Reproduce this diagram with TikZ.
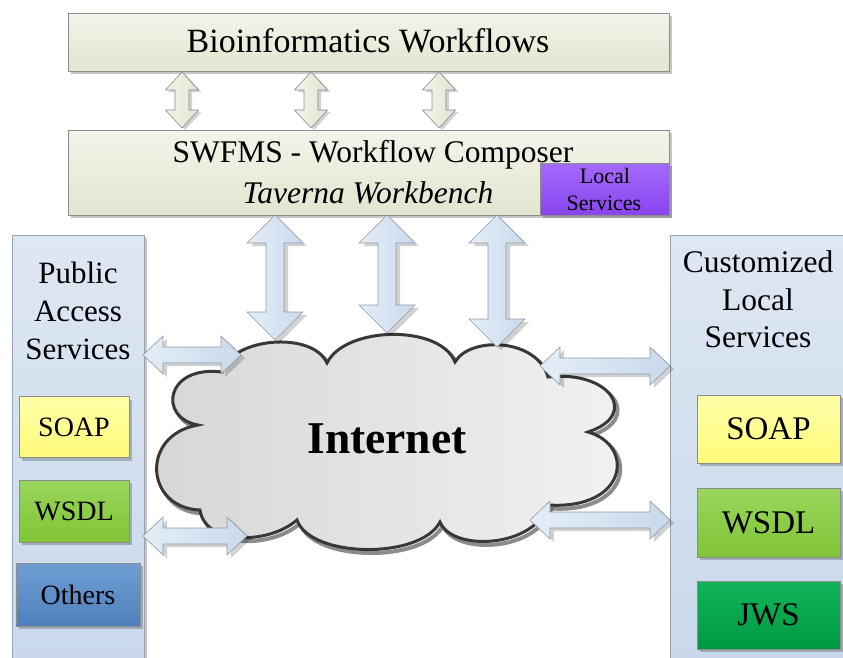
\documentclass[tikz,border=0pt]{standalone}
\usepackage{fontspec}
\setmainfont{Liberation Serif}
\usetikzlibrary{shadows}
\definecolor{beigeT}{HTML}{F3F4EA}
\definecolor{beigeB}{HTML}{E2E5D0}
\definecolor{boxline}{HTML}{8C8C8C}
\definecolor{purpT}{HTML}{A46AFB}
\definecolor{purpB}{HTML}{8944EF}
\definecolor{panelT}{HTML}{DEE7F3}
\definecolor{panelB}{HTML}{C8D8EB}
\definecolor{panelLine}{HTML}{98A3AF}
\definecolor{yelT}{HTML}{FFFFAA}
\definecolor{yelB}{HTML}{FFFA78}
\definecolor{grnT}{HTML}{9AD65C}
\definecolor{grnB}{HTML}{80C436}
\definecolor{bluT}{HTML}{6E9ED3}
\definecolor{bluB}{HTML}{4E80BC}
\definecolor{dgrT}{HTML}{10B45A}
\definecolor{dgrB}{HTML}{009A40}
\definecolor{arrL}{HTML}{E4EDF7}
\definecolor{arrR}{HTML}{C9DAEC}
\definecolor{arrLine}{HTML}{8E9AA6}
\definecolor{cloudL}{HTML}{D6D6D6}
\definecolor{cloudR}{HTML}{F2F2F2}
\definecolor{cloudLine}{HTML}{383838}
\newcommand{\fs}[1]{\fontsize{#1pt}{#1pt}\selectfont}
\newcommand{\VArrow}[7]{%
  \draw[#1] (#2,#3) -- (#2+#5,#3+#7) -- (#2+#6,#3+#7) -- (#2+#6,#4-#7) -- (#2+#5,#4-#7) -- (#2,#4)
    -- (#2-#5,#4-#7) -- (#2-#6,#4-#7) -- (#2-#6,#3+#7) -- (#2-#5,#3+#7) -- cycle;}
\newcommand{\HArrow}[7]{%
  \draw[#1] (#3,#2) -- (#3+#7,#2-#5) -- (#3+#7,#2-#6) -- (#4-#7,#2-#6) -- (#4-#7,#2-#5) -- (#4,#2)
    -- (#4-#7,#2+#5) -- (#4-#7,#2+#6) -- (#3+#7,#2+#6) -- (#3+#7,#2+#5) -- cycle;}
\newcommand{\cloudpath}{(222,372) .. controls (230,338) and (312,330) .. (327,363)
  .. controls (345,326) and (440,324) .. (455,362)
  .. controls (470,336) and (537,338) .. (548,377)
  .. controls (610,370) and (640,415) .. (588,432)
  .. controls (635,445) and (628,510) .. (548,505)
  .. controls (535,548) and (452,552) .. (440,522)
  .. controls (420,560) and (310,558) .. (297,520)
  .. controls (268,545) and (205,545) .. (200,510)
  .. controls (145,508) and (140,435) .. (198,425)
  .. controls (158,418) and (165,365) .. (222,372) -- cycle}
\begin{document}
\begin{tikzpicture}[x=1pt,y=-1pt,
  box/.style={draw=boxline, line width=0.8pt, inner sep=0pt,
    drop shadow={shadow xshift=3pt, shadow yshift=-3pt, opacity=0.22, fill=black}},
  beigebox/.style={box, top color=beigeT, bottom color=beigeB},
  purplebox/.style={box, top color=purpT, bottom color=purpB},
  panelbox/.style={box, draw=panelLine, top color=panelT, bottom color=panelB},
  yellowbox/.style={box, top color=yelT, bottom color=yelB},
  greenbox/.style={box, top color=grnT, bottom color=grnB},
  bluebox/.style={box, top color=bluT, bottom color=bluB},
  dgreenbox/.style={box, top color=dgrT, bottom color=dgrB},
  barrow/.style={draw=arrLine, line width=0.6pt, left color=arrL, right color=arrR, line join=miter,
    drop shadow={shadow xshift=4pt, shadow yshift=-3pt, opacity=0.18, fill=black}},
  sarrow/.style={draw=boxline, line width=0.6pt, left color=beigeT, right color=beigeB, line join=miter,
    drop shadow={shadow xshift=3pt, shadow yshift=-2pt, opacity=0.18, fill=black}},
  txt/.style={inner sep=0pt, anchor=base, text=black}
]
\useasboundingbox (0,0) rectangle (843,657);

% side panels
\node[panelbox, minimum width=132pt, minimum height=440pt] (lp) at (78,455) {};
\node[panelbox, minimum width=190pt, minimum height=440pt] (rp) at (765,455) {};
\node[txt, font=\fs{31}] (lp1) at (78,283) {Public};
\node[txt, font=\fs{31}] (lp2) at (78,321) {Access};
\node[txt, font=\fs{31}] (lp3) at (78,359) {Services};
\node[txt, font=\fs{31.5}] (rp1) at (758,272) {Customized};
\node[txt, font=\fs{31.5}] (rp2) at (758,310) {Local};
\node[txt, font=\fs{31.5}] (rp3) at (758,347) {Services};

% left service boxes
\node[yellowbox, minimum width=110pt, minimum height=61pt, font=\fs{28}] (lsoap) at (74,427) {SOAP};
\node[greenbox, minimum width=110pt, minimum height=62pt, font=\fs{28}] (lwsdl) at (74,511) {WSDL};
\node[bluebox, minimum width=124pt, minimum height=63pt, font=\fs{28}] (loth) at (78,594.5) {Others};
% right service boxes
\node[yellowbox, minimum width=143pt, minimum height=68pt, font=\fs{33}] (rsoap) at (768.5,429) {SOAP};
\node[greenbox, minimum width=143pt, minimum height=69pt, font=\fs{33}] (rwsdl) at (768.5,522.5) {WSDL};
\node[dgreenbox, minimum width=143pt, minimum height=68pt, font=\fs{33}] (rjws) at (768.5,615) {JWS};

% top boxes
\node[beigebox, minimum width=601pt, minimum height=58pt] (bio) at (368.5,42) {};
\node[txt, font=\fs{34}] (biot) at (368,52) {Bioinformatics Workflows};
\node[beigebox, minimum width=601pt, minimum height=85pt] (swf) at (368.5,172.5) {};
\node[txt, font=\fs{31.5}] (swft) at (373,162) {SWFMS - Workflow Composer};
\node[txt, font=\fs{31.5}\itshape] (tav) at (368,203) {Taverna Workbench};
\node[purplebox, minimum width=129pt, minimum height=52pt] (loc) at (604.5,189) {};
\node[txt, font=\fs{22}] (loc1) at (605,183) {Local};
\node[txt, font=\fs{22}] (loc2) at (604,210) {Services};

% small beige arrows
\VArrow{sarrow}{182}{72}{128}{16.5}{7}{18}
\VArrow{sarrow}{311}{72}{128}{16.5}{7}{18}
\VArrow{sarrow}{439}{72}{128}{16.5}{7}{18}

% cloud
\draw[line width=4pt, draw=black!45, xshift=3pt, yshift=-3.5pt] \cloudpath;
\draw[line width=3pt, draw=cloudLine, left color=cloudL, right color=cloudR] \cloudpath;
\node[txt, font=\fs{45.5}\bfseries] (inet) at (387,453) {Internet};

% big blue arrows
\VArrow{barrow}{275}{215}{340}{28}{9}{28}
\VArrow{barrow}{387}{215}{333}{28}{9}{28}
\VArrow{barrow}{497}{215}{347}{28}{9}{28}
\HArrow{barrow}{355}{143}{241}{19}{8}{20}
\HArrow{barrow}{536}{143}{247}{19}{8}{20}
\HArrow{barrow}{366}{540}{670}{19}{8}{20}
\HArrow{barrow}{520}{530}{670}{19}{8}{20}
\end{tikzpicture}
\end{document}
